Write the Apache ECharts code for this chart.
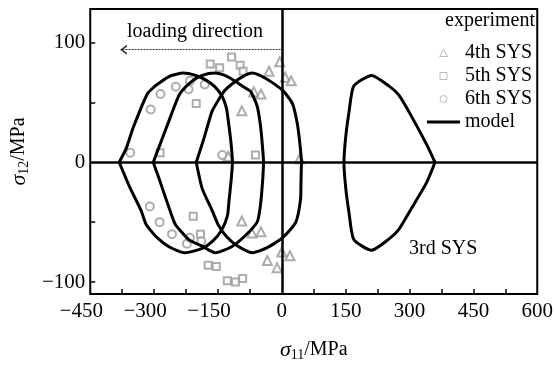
<!DOCTYPE html>
<html>
<head>
<meta charset="utf-8">
<script src="https://cdn.jsdelivr.net/npm/echarts@6/dist/echarts.min.js"></script>
<style>
  html, body { margin: 0; padding: 0; background: #fff; }
  #chart { width: 556px; height: 367px; }
</style>
</head>
<body>
<div id="chart"></div>
<script type="text/javascript">
    // experiment points [sigma11, sigma12]
    var sys4 = [[-5, 84], [-30, 76], [8, 71], [22, 68], [-66, 59], [-49, 57], [-94, 43], [-126, 5], [42, 3],
        [-94, -49], [-70, -59], [-49, -58], [0, -75], [19, -78], [-34, -82], [-11, -88]];
    var sys5 = [[-118, 88], [-168, 82], [-146, 79], [-98, 81], [-91, 76], [-201, 49], [-286, 8], [-62, 6],
        [-208, -45], [-191, -60], [-173, -86], [-154, -87], [-128, -99], [-109, -100], [-92, -97]];
    var sys6 = [[-356, 8], [-308, 44], [-285, 57], [-249, 63], [-216, 68], [-219, 61], [-181, 65], [-140, 6],
        [-310, -37], [-287, -50], [-258, -60], [-223, -68], [-216, -63], [-189, -66]];

    // model yield surfaces
    var surfA = [[-382, 0], [-365, 12], [-349, 29], [-316, 57], [-300, 63], [-289, 66], [-263, 72], [-232, 74.5],
        [-202, 72.5], [-180, 69], [-157, 63], [-140, 55], [-130, 45], [-124, 30], [-119, 15], [-116, 0], [-119, -15],
        [-124, -32], [-128, -45], [-142, -57], [-160, -65], [-187, -72], [-228, -75.5], [-263, -71], [-293, -63],
        [-310, -56], [-320, -51], [-331, -40], [-357, -21], [-382, 0]];
    var surfB = [[-302, 0], [-271, 29], [-240, 57], [-214, 67], [-187, 72.5], [-157, 74.5], [-130, 72], [-111, 68],
        [-90, 63], [-73, 59], [-58, 47], [-51, 33], [-47, 19.5], [-43, 0], [-46, -20], [-51, -38], [-58, -50],
        [-88, -62], [-120, -71], [-157, -75.5], [-187, -70], [-217, -65], [-236, -58], [-250, -52], [-262, -41],
        [-289, -13], [-302, 0]];
    var surfC = [[-201, 0], [-182, 21], [-164, 42.5], [-149, 52], [-134, 60], [-111, 67], [-90, 72], [-69.5, 74.5],
        [-35.5, 69.6], [2, 60], [25, 49], [36, 33], [42, 17], [46, 0], [45, -17], [44, -31], [33, -50], [2, -63],
        [-35.5, -71.5], [-69.5, -75.5], [-104, -70], [-130, -62], [-149, -52.5], [-164, -40], [-187, -22], [-201, 0]];
    var surf3rd = [[360, 0], [340, 15], [302, 40], [275, 56], [252, 63.6], [211, 72.5], [169, 63.6], [158, 42.5],
        [150, 21], [146, 0], [150, -21], [158, -42.5], [169, -64.5], [211, -73.5], [252, -64], [275, -56],
        [302, -40], [340, -17], [360, 0]];

    var xTicks = [-375, -300, -225, -150, -75, 75, 150, 225, 300, 375, 450, 525];
    var xLabels = [-450, -300, -150, 0, 150, 300, 450, 600];
    var yTicks = [-100, -50, 50, 100];
    var yLabels = [-100, 0, 100];
    var arrowLine = [[-3, 94], [-372, 94]];

    var serif = 'Liberation Serif';
    var grey = '#999';
    var chart = echarts.init(document.getElementById('chart'));

    function fmt(v) {
        return String(v).replace('-', '\u2212');
    }

    function expSeries(name, data, symbol, size) {
        return {
            name: name,
            type: 'scatter',
            data: data,
            symbol: symbol,
            symbolSize: size,
            z: 3,
            color: grey,
            itemStyle: { color: grey, borderWidth: 1 }
        };
    }

    function modelSeries(data) {
        return {
            name: 'model',
            type: 'line',
            data: data,
            symbol: 'none',
            smooth: 0.2,
            z: 4,
            color: '#000',
            lineStyle: { color: '#000', width: 3 }
        };
    }

    var nameRich = {
        s: { fontFamily: serif, fontStyle: 'italic', fontSize: 22, color: '#000' },
        sub: { fontFamily: serif, fontSize: 14, color: '#000', padding: [10, 0, 0, 0] },
        t: { fontFamily: serif, fontSize: 20, color: '#000' }
    };
    var legendIconStyle = { color: '#fff', borderColor: '#aaa', borderWidth: 1 };

    var option = {
        animation: false,
        grid: { left: 79, right: 15, top: 9, bottom: 65, show: true, borderColor: '#000', borderWidth: 2 },
        legend: {
            orient: 'vertical',
            left: 422,
            top: 38,
            itemWidth: 33,
            itemHeight: 7,
            itemGap: 3,
            symbolKeepAspect: true,
            textStyle: { fontFamily: serif, fontSize: 20, color: '#000', lineHeight: 20 },
            data: [
                { name: '4th SYS', icon: 'path://M5,0 L10,9 L0,9 Z', itemStyle: legendIconStyle },
                { name: '5th SYS', icon: 'path://M0,0 L9,0 L9,9 L0,9 Z', itemStyle: legendIconStyle },
                { name: '6th SYS', icon: 'path://M10,5 A5,5 0 1,1 0,5 A5,5 0 1,1 10,5 Z', itemStyle: legendIconStyle },
                { name: 'model', icon: 'path://M0,0 L33,0 L33,3 L0,3 Z', itemStyle: { color: '#000' } }
            ]
        },
        xAxis: {
            type: 'value',
            min: -450,
            max: 600,
            name: '{s|σ}{sub|11}{t|/MPa}',
            nameLocation: 'middle',
            nameGap: 44,
            nameTextStyle: { rich: nameRich },
            splitLine: { show: false },
            axisLine: { show: false, onZero: false },
            axisTick: { inside: true, length: 5, customValues: xTicks, lineStyle: { color: '#000', width: 1.5 } },
            axisLabel: {
                customValues: xLabels, margin: 7, color: '#000', fontFamily: serif, fontSize: 21,
                rich: {
                    n: { fontFamily: serif, fontSize: 21, color: '#000' },
                    gap: { width: 18, color: 'rgba(0,0,0,0)', fontSize: 21 }
                },
                // an empty block after negative labels pushes the minus sign left, as in the original
                formatter: function (v) { return v < 0 ? '{n|' + fmt(v) + '}{gap|.}' : fmt(v); }
            }
        },
        yAxis: {
            type: 'value',
            min: -110,
            max: 128,
            name: '{s|σ}{sub|12}{t|/MPa}',
            nameLocation: 'middle',
            nameGap: 58,
            nameTextStyle: { rich: nameRich },
            splitLine: { show: false },
            axisLine: { show: false, onZero: false },
            axisTick: { inside: true, length: 5, customValues: yTicks, lineStyle: { color: '#000', width: 1.5 } },
            axisLabel: {
                customValues: yLabels, margin: 5, color: '#000', fontFamily: serif, fontSize: 21,
                formatter: function (v) { return fmt(v); }
            }
        },
        graphic: [
            { type: 'text', left: 127, top: 22, style: { text: 'loading direction', font: '20px "Liberation Serif"', fill: '#000' } },
            { type: 'text', right: 21, top: 11, style: { text: 'experiment', font: '20px "Liberation Serif"', fill: '#000' } },
            { type: 'text', left: 409, top: 239, style: { text: '3rd SYS', font: '20px "Liberation Serif"', fill: '#000' } }
        ],
        series: [
            expSeries('4th SYS', sys4, 'emptyTriangle', 9),
            expSeries('5th SYS', sys5, 'emptyRect', 7),
            expSeries('6th SYS', sys6, 'emptyCircle', 8),
            modelSeries(surfA),
            modelSeries(surfB),
            modelSeries(surfC),
            modelSeries(surf3rd),
            {
                type: 'line',
                data: [],
                silent: true,
                markLine: {
                    silent: true,
                    symbol: 'none',
                    label: { show: false },
                    lineStyle: { color: '#000', width: 2.5, type: 'solid' },
                    data: [{ xAxis: 0 }, { yAxis: 0 }]
                }
            },
            {
                type: 'line',
                data: [],
                silent: true,
                markLine: {
                    silent: true,
                    symbol: ['none', 'path://M0,10 L5,0 L10,10 L8,10 L5,4 L2,10 Z'],
                    symbolSize: [10, 7],
                    label: { show: false },
                    lineStyle: { color: '#333', width: 1, type: [2, 1] },
                    data: [[{ coord: arrowLine[0] }, { coord: arrowLine[1] }]]
                }
            }
        ]
    };

    chart.setOption(option);
</script>
</body>
</html>
